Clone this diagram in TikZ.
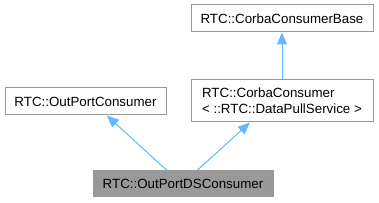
\documentclass[tikz,border=0pt]{standalone}
\usepackage{fontspec}
\setmainfont{Liberation Sans}
\usepackage{xcolor}
\usetikzlibrary{arrows.meta, positioning, calc}

\definecolor{edgeblue}{HTML}{63B8FF}
\definecolor{boxline}{HTML}{999999}
\definecolor{boxfill}{HTML}{999999}

\begin{document}
\begin{tikzpicture}[
  x=0.75pt, y=-0.75pt,
  every node/.style={font=\fontsize{10pt}{12pt}\selectfont},
  % --- box styles ---
  classbox/.style={
    draw=boxline, fill=white, line width=0.75pt,
    inner sep=0pt, align=left,
  },
  curbox/.style={classbox, fill=boxfill},
  arr/.style={{Triangle[length=9pt, width=7.5pt]}-, line width=0.75pt,
    draw=edgeblue, fill=edgeblue},
]

% bounding box
\useasboundingbox (0,0) rectangle (379,203);

% ---------- Row 1: base ----------
\node[classbox, minimum width=136.5pt, minimum height=20.25pt] (base)
  at (282, 18.5) {RTC::CorbaConsumerBase};

% ---------- Row 2: parents ----------
\node[classbox, minimum width=136.5pt, minimum height=31.5pt] (corba)
  at (282, 101) {RTC::CorbaConsumer\\< ::RTC::DataPullService >};
\node[classbox, minimum width=120.75pt, minimum height=20.25pt] (outport)
  at (85.5, 101.5) {RTC::OutPortConsumer};

% ---------- Row 3: this class ----------
\node[curbox, minimum width=135pt, minimum height=19.5pt] (ds)
  at (183, 184) {RTC::OutPortDSConsumer};

% inheritance edges
\draw[arr] (base.south) -- (corba.north);
\draw[arr] ([xshift=16pt]outport.south) -- ([xshift=-12pt]ds.north);
\draw[arr] ([xshift=-24pt]corba.south) -- ([xshift=10.5pt]ds.north);

\end{tikzpicture}
\end{document}
